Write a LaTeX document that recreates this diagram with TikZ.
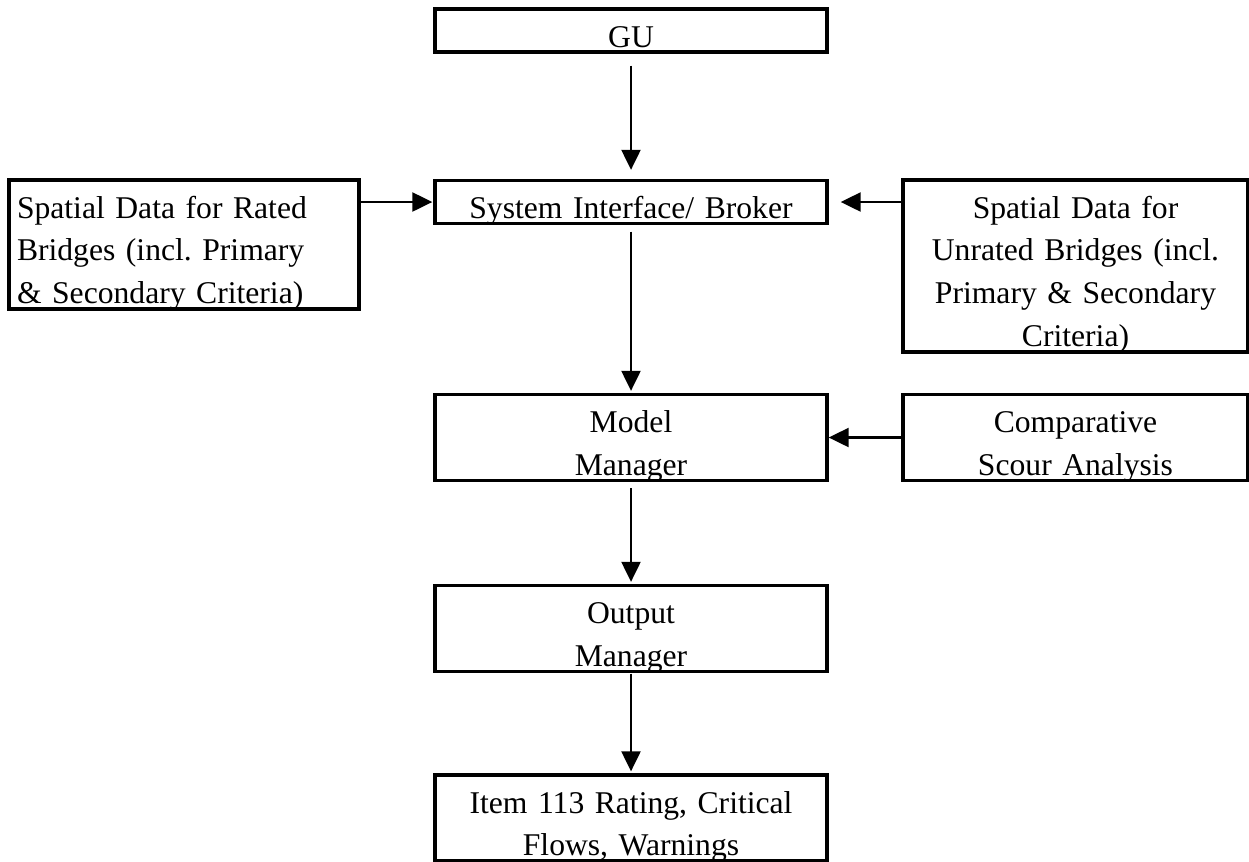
\documentclass[tikz,border=0pt]{standalone}
\usepackage{fontspec}
\setmainfont{Liberation Serif}
\usepackage{tikz}
\usetikzlibrary{arrows.meta}
\frenchspacing

\begin{document}
\begin{tikzpicture}[
        blk/.style={draw,line width=1.9pt,inner xsep=0.16cm,inner ysep=0pt,
          text height=0.76cm,align=center,
          font=\fontsize{18pt}{24.4pt}\selectfont},
        flow/.style={line width=1.25pt,-{Triangle[length=0.4cm,width=0.38cm]}}]
        \useasboundingbox (0,0) rectangle (24.98,-17.22);
        \node[blk,text width=7.52cm,text depth=0.1cm] (gu) at (12.62,-0.61) {GU};
        \node[blk,text width=7.52cm,text depth=0.1cm] (broker) at (12.62,-4.04) {System Interface/ Broker};
        \node[blk,text width=7.52cm,text depth=0.96cm] (model) at (12.62,-8.75) {Model\\Manager};
        \node[blk,text width=7.52cm,text depth=0.96cm] (output) at (12.62,-12.57) {Output\\Manager};
        \node[blk,text width=7.52cm,text depth=0.96cm] (result) at (12.62,-16.36) {Item 113 Rating, Critical\\Flows, Warnings};
        \node[blk,align=left,text width=6.68cm,text depth=1.82cm] (rated) at (3.68,-4.89)
          {Spatial Data for Rated\\Bridges (incl. Primary\\\& Secondary Criteria)};
        \node[blk,text width=6.58cm,text depth=2.68cm] (unrated) at (21.51,-5.32)
          {Spatial Data for\\Unrated Bridges (incl.\\Primary \& Secondary\\Criteria)};
        \node[blk,text width=6.58cm,text depth=0.96cm] (comp) at (21.51,-8.75) {Comparative\\Scour Analysis};
        \foreach \a/\b/\s/\e in {gu/broker/0.24cm/0.18cm,broker/model/0.13cm/0.04cm,model/output/0.12cm/0.04cm,output/result/0.01cm/0.04cm}{
          \draw[flow,shorten <=\s,shorten >=\e] (\a) -- (\b);
        }
        \draw[flow,shorten >=0.02cm] (rated.east |- broker.west) -- (broker.west);
        \draw[flow,shorten >=0.24cm] (unrated.west |- broker.east) -- (broker.east);
        \draw[flow] (comp) -- (model);
      \end{tikzpicture}
\end{document}
